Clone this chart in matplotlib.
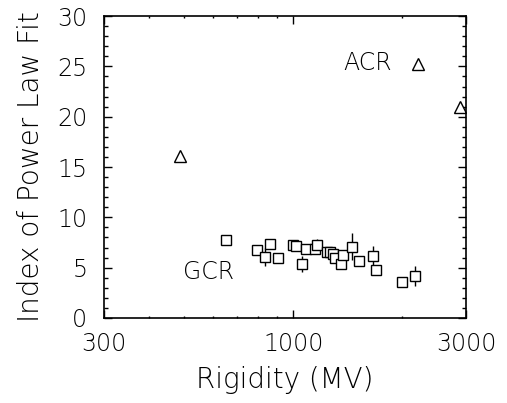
import numpy as np
import matplotlib
matplotlib.use("Agg")
import matplotlib.pyplot as plt
from matplotlib.ticker import FixedLocator, FixedFormatter, NullFormatter

# GCR points (rigidity MV, index, error)
gcr_x = [652, 792, 836, 862, 909, 996, 1017, 1055, 1084, 1148, 1161,
         1237, 1264, 1291, 1304, 1351, 1375, 1456, 1522, 1657, 1689, 1993, 2169]
gcr_y = [7.7, 6.8, 6.1, 7.4, 6.0, 7.3, 7.2, 5.4, 6.9, 6.9, 7.3,
         6.6, 6.6, 6.4, 6.0, 5.4, 6.3, 7.1, 5.7, 6.2, 4.8, 3.6, 4.2]
gcr_err = [0.3, 0.3, 0.9, 0.3, 0.3, 0.4, 0.3, 0.8, 0.3, 0.3, 0.5,
           0.3, 0.3, 0.3, 0.4, 0.4, 0.4, 1.3, 0.3, 1.0, 0.5, 0.4, 1.0]

# ACR points
acr_x = [487, 2211, 2887]
acr_y = [16.1, 25.2, 21.0]
acr_err = [0.4, 0.3, 0.5]

plt.rcParams["font.family"] = "DejaVu Sans"
plt.rcParams["font.weight"] = "light"
plt.rcParams["axes.labelweight"] = "light"

fig = plt.figure(figsize=(5.07, 4.03), dpi=100)
ax = fig.add_axes([0.205, 0.211, 0.714, 0.749])

ax.errorbar(gcr_x, gcr_y, yerr=gcr_err, fmt="s", ms=7, mfc="white", mec="black",
            mew=1.0, ecolor="black", elinewidth=1.0, capsize=0)
ax.errorbar(acr_x, acr_y, yerr=acr_err, fmt="^", ms=8.5, mfc="white", mec="black",
            mew=1.0, ecolor="black", elinewidth=1.0, capsize=0)

ax.set_xscale("log")
ax.set_xlim(300, 3000)
ax.set_ylim(0, 30)
ax.xaxis.set_major_locator(FixedLocator([300, 1000, 3000]))
ax.xaxis.set_minor_locator(FixedLocator([400, 500, 600, 700, 800, 900, 2000]))
ax.xaxis.set_major_formatter(FixedFormatter(["300", "1000", "3000"]))
ax.xaxis.set_minor_formatter(NullFormatter())
ax.set_yticks([0, 5, 10, 15, 20, 25, 30])
ax.set_yticks(np.arange(0, 31, 1), minor=True)

ax.tick_params(which="both", direction="in", top=True, right=True, width=1.0,
               labelsize=17, pad=10)
ax.tick_params(axis="y", pad=12)
ax.tick_params(which="major", length=6)
ax.tick_params(which="minor", length=3)
ax.tick_params(axis="x", which="minor", length=1.5)
for s in ax.spines.values():
    s.set_linewidth(1.2)

ax.text(0.729, 0.844, "ACR", transform=ax.transAxes, fontsize=17, ha="center", va="center")
ax.text(0.29, 0.153, "GCR", transform=ax.transAxes, fontsize=17, ha="center", va="center")

ax.set_xlabel("Rigidity (MV)", fontsize=20, labelpad=7)
ax.set_ylabel("Index of Power Law Fit", fontsize=20, labelpad=9)

fig.savefig("out.png", dpi=100)
